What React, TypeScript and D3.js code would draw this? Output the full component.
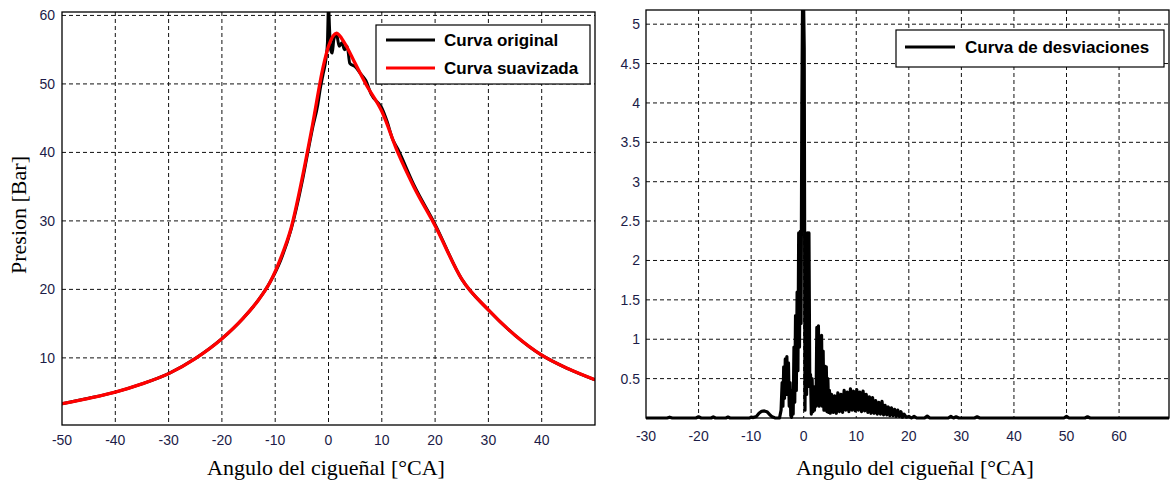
import React from "react";
import * as d3 from "d3";

// ---- left panel: pressure vs crank angle ----
const smoothAngle = [-50, -45, -40, -35, -30, -25, -20, -16, -13, -11, -9, -7, -5, -3, -1, 0, 1.5, 3, 5, 7, 10, 13, 16, 20, 25, 30, 35, 40, 45, 50];
const smoothPres = [3.3, 4.1, 5.0, 6.2, 7.7, 9.9, 12.8, 15.8, 18.6, 21, 24.5, 29, 36, 44, 52.5, 55.5, 57.4, 56, 53, 50, 46, 40, 35, 29.3, 21.5, 17, 13.3, 10.4, 8.4, 6.8];

const origAngle = [-50, -45, -40, -35, -30, -25, -20, -16, -13, -11, -9, -7, -5, -4, -3, -2, -1.5, -1, -0.5, -0.2, 0, 0.2, 0.4, 0.7, 1, 1.5, 2, 2.5, 3, 3.5, 4, 5, 6, 7, 8, 10, 11, 12, 13, 16, 20, 25, 30, 35, 40, 45, 50];
const origPres = [3.3, 4.1, 5.0, 6.2, 7.7, 9.9, 12.8, 15.8, 18.6, 21, 24.2, 28.8, 35.5, 39.5, 43.5, 47, 49.5, 51.5, 53.5, 56, 61.5, 58, 55, 54.5, 56.5, 57.3, 55.5, 56, 55, 55.5, 53, 52.5, 51.5, 50.5, 48.5, 46.5, 44.5, 42, 40.5, 35.3, 29.5, 21.5, 17, 13.3, 10.4, 8.4, 6.8];

const leftXTicks = [-50, -40, -30, -20, -10, 0, 10, 20, 30, 40];
const leftYTicks = [10, 20, 30, 40, 50, 60];

// ---- right panel: deviation curve ----
const deviation: [number, number][] = [
  [-30, 0], [-26, 0], [-25.5, 0.01], [-25, 0], [-20.5, 0], [-20, 0.015], [-19.5, 0], [-17.6, 0], [-17.2, 0.015], [-16.8, 0],
  [-14.8, 0], [-14.4, 0.012], [-14, 0], [-10.3, 0], [-10, 0.012], [-9.6, 0.005],
  [-9, 0.02], [-8.5, 0.06], [-8, 0.085], [-7.5, 0.09], [-7, 0.08], [-6.5, 0.045], [-6, 0.015], [-5.5, 0.002], [-4.6, 0],
  [-4.3, 0.1], [-4.1, 0.45], [-3.95, 0.15], [-3.8, 0.65], [-3.65, 0.25], [-3.5, 0.75], [-3.35, 0.3], [-3.2, 0.78], [-3.05, 0.3],
  [-2.9, 0.7], [-2.75, 0.15], [-2.6, 0.45], [-2.45, 0.03], [-2.3, 0.01], [-2.15, 0.35], [-2.0, 0.05], [-1.85, 0.9], [-1.7, 0.2],
  [-1.55, 1.3], [-1.4, 0.35], [-1.25, 1.6], [-1.1, 0.6], [-0.95, 2.35], [-0.8, 0.9], [-0.65, 2.37], [-0.5, 1.2], [-0.35, 3.95],
  [-0.2, 5.4], [-0.05, 5.4], [0.1, 4.7], [0.25, 0.1], [0.4, 2.0], [0.55, 0.3], [0.7, 2.35], [0.85, 0.4], [1.0, 2.35], [1.15, 0.5],
  [1.3, 0.55], [1.45, 0.05], [1.6, 0.5], [1.75, 0.08], [1.9, 0.4], [2.05, 0.1], [2.2, 0.35], [2.35, 0.15], [2.5, 1.15], [2.65, 0.2],
  [2.8, 1.17], [2.95, 0.15], [3.1, 1.0], [3.25, 0.2], [3.4, 1.05], [3.55, 0.15], [3.7, 0.85], [3.85, 0.1], [4.0, 0.66], [4.15, 0.1],
  [4.3, 0.65], [4.45, 0.08], [4.6, 0.5], [4.75, 0.07], [4.9, 0.35], [5.05, 0.06],
  [5.3, 0.3], [5.6, 0.07], [5.9, 0.28], [6.2, 0.06], [6.5, 0.32], [6.8, 0.08], [7.1, 0.3], [7.4, 0.07], [7.7, 0.35], [8.0, 0.1],
  [8.3, 0.33], [8.6, 0.08], [8.9, 0.37], [9.2, 0.1], [9.5, 0.34], [9.8, 0.09], [10.1, 0.36], [10.4, 0.1], [10.7, 0.33], [11.0, 0.08],
  [11.3, 0.34], [11.6, 0.09], [11.9, 0.3], [12.2, 0.07], [12.5, 0.27], [12.8, 0.06], [13.1, 0.26], [13.4, 0.06], [13.7, 0.22],
  [14.0, 0.05], [14.3, 0.2], [14.6, 0.05], [14.9, 0.21], [15.2, 0.04], [15.5, 0.16], [15.8, 0.04], [16.1, 0.14], [16.4, 0.03],
  [16.7, 0.13], [17.0, 0.03], [17.3, 0.11], [17.6, 0.02], [17.9, 0.1], [18.2, 0.02], [18.5, 0.08], [18.8, 0.01], [19.1, 0.05],
  [19.5, 0.01], [20, 0.02], [20.5, 0], [21, 0.02], [21.5, 0], [23, 0], [23.5, 0.025], [24, 0], [27.5, 0], [28, 0.02], [28.5, 0],
  [29, 0.015], [29.5, 0], [32.5, 0], [33, 0.015], [33.5, 0], [49.5, 0], [50, 0.02], [50.5, 0], [53.5, 0], [54, 0.015], [54.5, 0],
  [70, 0],
];

const rightXTicks = [-30, -20, -10, 0, 10, 20, 30, 40, 50, 60];
const rightYTicks = [0.5, 1, 1.5, 2, 2.5, 3, 3.5, 4, 4.5, 5];

const tickColor = "#1c1c48";
const tickFont = "'Liberation Sans', Arial, sans-serif";
const titleFont = "'Liberation Serif', 'Times New Roman', serif";
const legendFont = "'Liberation Sans', Arial, sans-serif";

export default function App() {
  // left scales
  const xL = d3.scaleLinear().domain([-50, 50]).range([62, 595]);
  const yL = d3.scaleLinear().domain([0.2, 60.5]).range([425, 12]);
  // right scales
  const xR = d3.scaleLinear().domain([-30, 69.5]).range([646, 1169]);
  const yR = d3.scaleLinear().domain([0, 5.18]).range([418, 10]);

  const lineL = d3.line<[number, number]>()
    .x((d) => xL(d[0]))
    .y((d) => yL(d[1]))
    .curve(d3.curveMonotoneX);
  const lineR = d3.line<[number, number]>()
    .x((d) => xR(d[0]))
    .y((d) => yR(d[1]));

  const smoothData = smoothAngle.map((a, i) => [a, smoothPres[i]] as [number, number]);
  const origData = origAngle.map((a, i) => [a, origPres[i]] as [number, number]);

  const [lx0, lx1] = xL.range();
  const [ly0, ly1] = [yL.range()[1], yL.range()[0]];
  const [rx0, rx1] = xR.range();
  const [ry0, ry1] = [yR.range()[1], yR.range()[0]];

  return (
    <div style={{ position: "absolute", left: 0, top: 0 }}>
      <svg width={1170} height={483} style={{ display: "block", background: "#fff" }}>
        <defs>
          <clipPath id="clipL">
            <rect x={lx0} y={ly0} width={lx1 - lx0} height={ly1 - ly0} />
          </clipPath>
          <clipPath id="clipR">
            <rect x={rx0} y={ry0} width={rx1 - rx0} height={ry1 - ry0 + 4} />
          </clipPath>
        </defs>

        {/* ---------- left panel ---------- */}
        <g>
          {leftXTicks.slice(1).map((t) => (
            <line key={"lgx" + t} x1={xL(t)} x2={xL(t)} y1={ly0} y2={ly1} stroke="#111" strokeDasharray="4 3" />
          ))}
          {leftYTicks.map((t) => (
            <line key={"lgy" + t} x1={lx0} x2={lx1} y1={yL(t)} y2={yL(t)} stroke="#111" strokeDasharray="4 3" />
          ))}
          <g clipPath="url(#clipL)">
            <path d={lineL(origData) || ""} fill="none" stroke="#000" strokeWidth={3} strokeLinejoin="round" />
            <path d={lineL(smoothData) || ""} fill="none" stroke="#ff0000" strokeWidth={3.3} strokeLinejoin="round" />
          </g>
          <rect x={lx0} y={ly0} width={lx1 - lx0} height={ly1 - ly0} fill="none" stroke="#000" strokeWidth={1.3} />
          {leftXTicks.map((t) => (
            <text key={"ltx" + t} x={xL(t)} y={445} textAnchor="middle" fontFamily={tickFont} fontSize={14} fill={tickColor}>
              {t}
            </text>
          ))}
          {leftYTicks.map((t) => (
            <text key={"lty" + t} x={55} y={yL(t) + 5} textAnchor="end" fontFamily={tickFont} fontSize={14} fill={tickColor}>
              {t}
            </text>
          ))}
          <text x={326} y={475} textAnchor="middle" fontFamily={titleFont} fontSize={22} fill="#000">
            Angulo del cigueñal [°CA]
          </text>
          <text
            transform={`translate(26, 215) rotate(-90)`}
            textAnchor="middle"
            fontFamily={titleFont}
            fontSize={22}
            fill="#000"
          >
            Presion [Bar]
          </text>
          {/* legend */}
          <rect x={376} y={25} width={214} height={59} fill="#fff" stroke="#000" strokeWidth={1.2} />
          <line x1={386} x2={435} y1={40} y2={40} stroke="#000" strokeWidth={3.2} />
          <line x1={386} x2={435} y1={68} y2={68} stroke="#ff0000" strokeWidth={3.2} />
          <text x={444} y={46} fontFamily={legendFont} fontWeight="bold" fontSize={17} fill="#000">
            Curva original
          </text>
          <text x={444} y={74} fontFamily={legendFont} fontWeight="bold" fontSize={17} fill="#000">
            Curva suavizada
          </text>
        </g>

        {/* ---------- right panel ---------- */}
        <g>
          {rightXTicks.slice(1).map((t) => (
            <line key={"rgx" + t} x1={xR(t)} x2={xR(t)} y1={ry0} y2={ry1} stroke="#111" strokeDasharray="4 3" />
          ))}
          {rightYTicks.map((t) => (
            <line key={"rgy" + t} x1={rx0} x2={rx1} y1={yR(t)} y2={yR(t)} stroke="#111" strokeDasharray="4 3" />
          ))}
          <rect x={rx0} y={ry0} width={rx1 - rx0} height={ry1 - ry0} fill="none" stroke="#000" strokeWidth={1.3} />
          <g clipPath="url(#clipR)">
            <path d={lineR(deviation) || ""} fill="none" stroke="#000" strokeWidth={3.2} strokeLinejoin="round" />
          </g>
          {rightXTicks.map((t) => (
            <text key={"rtx" + t} x={xR(t)} y={441} textAnchor="middle" fontFamily={tickFont} fontSize={14} fill={tickColor}>
              {t}
            </text>
          ))}
          {rightYTicks.map((t) => (
            <text key={"rty" + t} x={640} y={yR(t) + 5} textAnchor="end" fontFamily={tickFont} fontSize={14} fill={tickColor}>
              {t}
            </text>
          ))}
          <text x={915} y={475} textAnchor="middle" fontFamily={titleFont} fontSize={22} fill="#000">
            Angulo del cigueñal [°CA]
          </text>
          {/* legend */}
          <rect x={896} y={30} width={268} height={37} fill="#fff" stroke="#000" strokeWidth={1.2} />
          <line x1={905} x2={955} y1={47} y2={47} stroke="#000" strokeWidth={3.2} />
          <text x={965} y={53} fontFamily={legendFont} fontWeight="bold" fontSize={17} fill="#000">
            Curva de desviaciones
          </text>
        </g>
      </svg>
    </div>
  );
}
